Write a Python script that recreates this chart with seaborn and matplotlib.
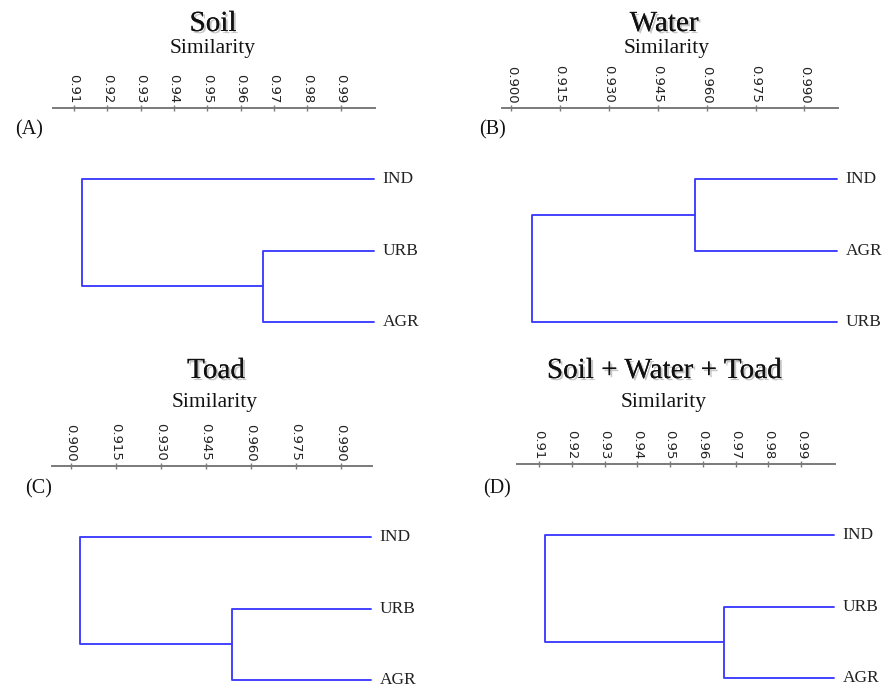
import numpy as np
import pandas as pd
import matplotlib
matplotlib.use("Agg")
import matplotlib.pyplot as plt
import matplotlib.patheffects as pe
import seaborn as sns

# ── Data ─────────────────────────────────────────────────────────────────────
panel_titles = ["Soil", "Water", "Toad", "Soil + Water + Toad"]
panel_tags = ["(A)", "(B)", "(C)", "(D)"]

# leaf order top -> bottom
soil_leaves = ["IND", "URB", "AGR"]
water_leaves = ["IND", "AGR", "URB"]
toad_leaves = ["IND", "URB", "AGR"]
all_leaves = ["IND", "URB", "AGR"]

# closest pair of each tree
soil_pair = ["URB", "AGR"]
water_pair = ["IND", "AGR"]
toad_pair = ["URB", "AGR"]
all_pair = ["URB", "AGR"]

# similarity where the pair joins, then where the root joins
soil_joins = [0.9666, 0.9124]
water_joins = [0.9563, 0.9065]
toad_joins = [0.9537, 0.9030]
all_joins = [0.9665, 0.9118]

ticks_2dp = [0.91, 0.92, 0.93, 0.94, 0.95, 0.96, 0.97, 0.98, 0.99]
ticks_3dp = [0.900, 0.915, 0.930, 0.945, 0.960, 0.975, 0.990]

# ── Layout (pixels in an 884x688 figure) ─────────────────────────────────────
W, H = 884, 688
DPI = 100
LEAF_GAP = 71.3           # px between leaves
LINE_BLUE = "#3b3bff"
AXIS_GREY = "#7a7a7a"
SERIF = ["Liberation Serif", "DejaVu Serif"]

panels = [
    # leaves, pair, joins, ticks, fmt, x0, x1, axis_y, xmin, title_xy, sim_xy, tag_xy
    (soil_leaves, soil_pair, soil_joins, ticks_2dp, "{:.2f}", 53, 375, 108, 0.9037,
     (213, 24), (213, 49), (15, 130)),
    (water_leaves, water_pair, water_joins, ticks_3dp, "{:.3f}", 502, 838, 108, 0.8972,
     (664, 24), (667, 49), (479, 130)),
    (toad_leaves, toad_pair, toad_joins, ticks_3dp, "{:.3f}", 52, 372, 466, 0.8937,
     (216, 371), (215, 402), (25, 489)),
    (all_leaves, all_pair, all_joins, ticks_2dp, "{:.2f}", 517, 835, 464, 0.9033,
     (664, 371), (664, 403), (483, 489)),
]

sns.set_theme(style="white")
plt.rcParams["font.family"] = ["DejaVu Sans"]

fig = plt.figure(figsize=(W / DPI, H / DPI), dpi=DPI)


def fx(px):
    return px / W


def fy(py):
    return 1 - py / H


def tree_frame(leaves, pair, joins):
    """Two polylines: the U of the closest pair and the root bracket."""
    ypos = {name: i for i, name in enumerate(leaves)}
    outlier = [n for n in leaves if n not in pair][0]
    y1, y2 = ypos[pair[0]], ypos[pair[1]]
    yo = ypos[outlier]
    mid = (y1 + y2) / 2
    j_pair, j_root = joins
    rows = []
    for x, y in [(1.0, y1), (j_pair, y1), (j_pair, y2), (1.0, y2)]:
        rows.append({"seg": 0, "x": x, "y": y})
    for x, y in [(j_pair, mid), (j_root, mid), (j_root, yo), (1.0, yo)]:
        rows.append({"seg": 1, "x": x, "y": y})
    return pd.DataFrame(rows)


for i, (leaves, pair, joins, ticks, fmt, x0, x1, axis_y, xmin,
        title_xy, sim_xy, tag_xy) in enumerate(panels):
    bottom_px = axis_y + 3.1 * LEAF_GAP
    ax = fig.add_axes([fx(x0), fy(bottom_px), fx(x1 - x0), (bottom_px - axis_y) / H])

    df = tree_frame(leaves, pair, joins)
    sns.lineplot(data=df, x="x", y="y", units="seg", estimator=None, sort=False,
                 color=LINE_BLUE, linewidth=1.35, ax=ax, legend=False)

    ax.set_xlim(xmin, 1.0003)
    ax.set_ylim(2.1, -1)
    ax.set_xlabel("")
    ax.set_ylabel("")
    ax.set_yticks([])

    for side in ["left", "right", "bottom"]:
        ax.spines[side].set_visible(False)
    ax.spines["top"].set_color(AXIS_GREY)
    ax.spines["top"].set_linewidth(1.4)

    ax.xaxis.tick_top()
    ax.set_xticks(ticks)
    ax.set_xticklabels([fmt.format(t) for t in ticks], rotation=270,
                       fontsize=9.5, color="#222222")
    ax.tick_params(axis="x", direction="inout", length=5, width=1,
                   color=AXIS_GREY, pad=1, top=True, bottom=False)

    for k, name in enumerate(leaves):
        ax.annotate(name, xy=(1.0, k), xytext=(6, 0), textcoords="offset points",
                    ha="left", va="center", fontsize=12.5, color="#222222",
                    family=SERIF, annotation_clip=False)

    fig.text(fx(title_xy[0]), fy(title_xy[1]), panel_titles[i], ha="center",
             va="center", fontsize=21, family=SERIF, color="#111111",
             path_effects=[pe.withSimplePatchShadow(offset=(1.5, -1.5),
                                                    shadow_rgbFace="0.55", alpha=0.5),
                           pe.Normal()])
    fig.text(fx(sim_xy[0]), fy(sim_xy[1]), "Similarity", ha="center", va="center",
             fontsize=15.5, family=SERIF, color="#111111")
    fig.text(fx(tag_xy[0]), fy(tag_xy[1]), panel_tags[i], ha="left", va="center",
             fontsize=14.5, family=SERIF, color="#111111")

fig.savefig("out.png", dpi=DPI, facecolor="white")
plt.close(fig)
